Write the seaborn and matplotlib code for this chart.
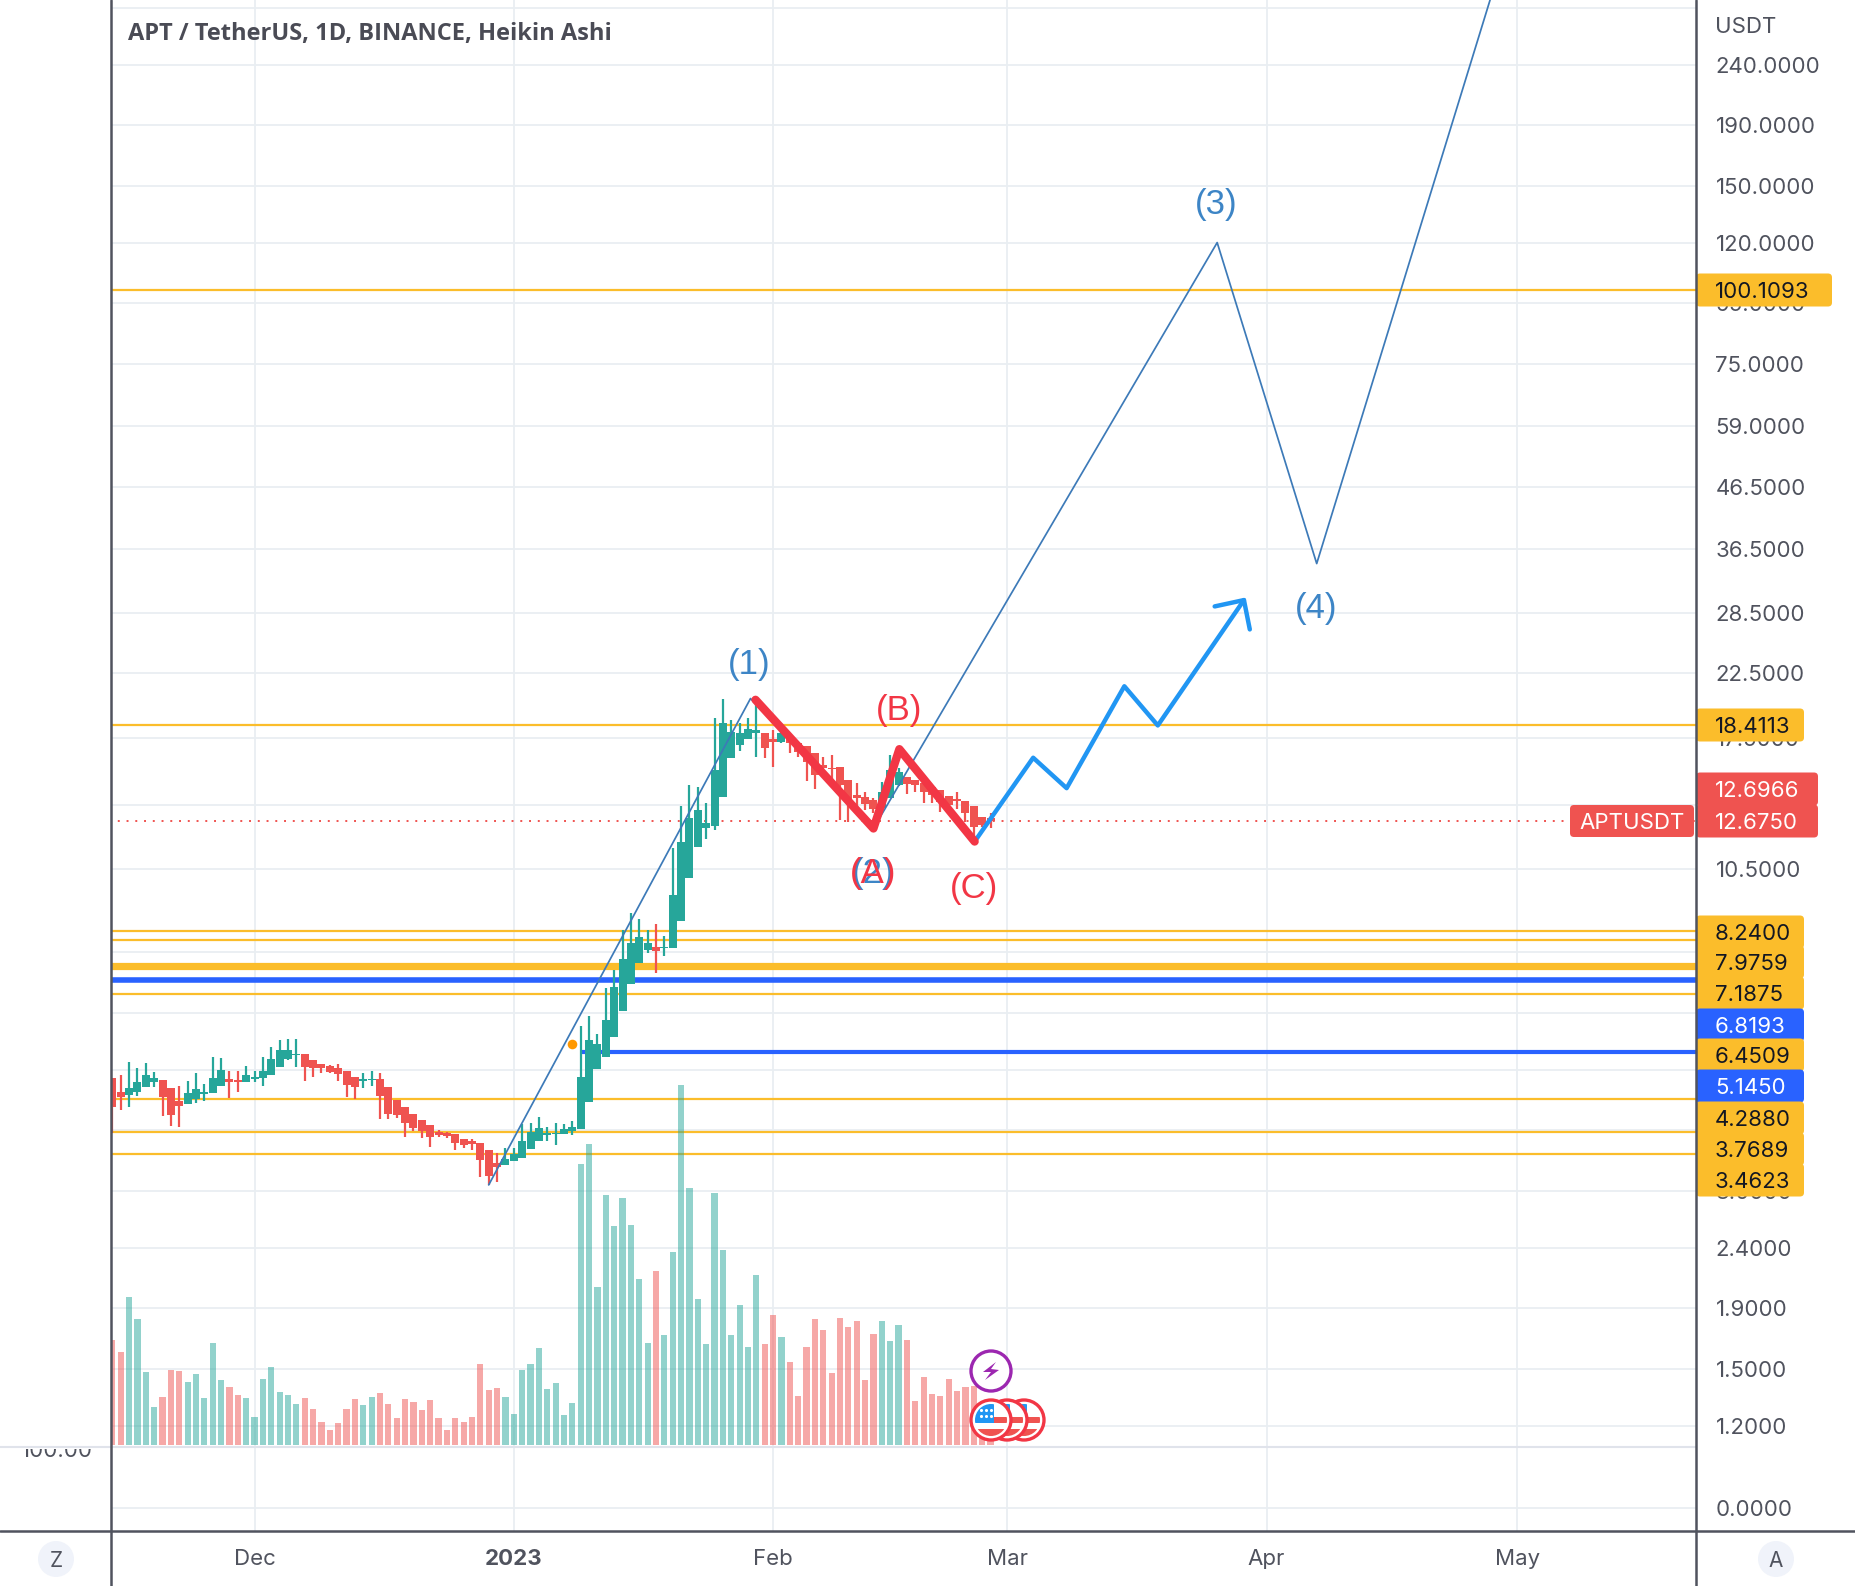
import matplotlib
matplotlib.use("Agg")
import matplotlib.pyplot as plt
from matplotlib.patches import Circle, FancyBboxPatch, Polygon, Rectangle
import numpy as np
import seaborn as sns

first_day = -17  # days from 1 Dec 2022

open_prices = [
    4.651, 4.404, 4.359, 4.416, 4.503, 4.591, 4.621, 4.473, 4.258, 4.209, 4.297, 4.381, 4.387, 4.520, 4.645,
    4.615, 4.579, 4.645, 4.663, 4.718, 4.867, 5.015, 5.100, 5.107, 4.989, 4.918, 4.880, 4.836, 4.786, 4.669,
    4.603, 4.621, 4.633, 4.491, 4.275, 4.154, 4.043, 3.949, 3.873, 3.779, 3.754, 3.740, 3.677, 3.639, 3.620,
    3.519, 3.341, 3.323, 3.371, 3.415, 3.537, 3.649, 3.735, 3.740, 3.745, 3.794, 3.823, 4.247, 4.817, 5.060,
    5.456, 6.053, 6.715, 7.297, 7.666, 7.766, 7.715, 7.736, 8.593, 10.13, 11.46, 12.34, 12.42, 13.93, 16.21,
    17.03, 17.43, 17.87, 17.87, 17.41, 17.25, 17.41, 17.18, 16.98, 16.49, 15.75, 15.59, 15.61, 14.86, 14.02,
    13.93, 13.75, 13.31, 13.84, 14.57, 15.01, 14.86, 14.67, 14.44, 14.29, 13.98, 13.78, 13.69, 13.43, 12.88,
    12.80,
]
high_prices = [
    4.651, 4.712, 4.950, 4.836, 4.931, 4.761, 4.621, 4.473, 4.514, 4.603, 4.742, 4.550, 5.047, 5.028, 4.786,
    4.786, 4.880, 4.786, 5.047, 5.248, 5.400, 5.414, 5.414, 5.107, 4.989, 4.918, 4.899, 4.912, 4.786, 4.669,
    4.742, 4.786, 4.742, 4.491, 4.275, 4.154, 4.043, 3.949, 3.873, 3.803, 3.774, 3.740, 3.677, 3.668, 3.620,
    3.519, 3.482, 3.541, 3.541, 3.893, 3.904, 4.006, 3.843, 3.904, 3.888, 3.944, 5.702, 5.929, 5.527, 6.603,
    7.091, 8.286, 8.865, 8.638, 8.286, 8.482, 8.095, 11.39, 13.43, 14.55, 14.44, 13.57, 18.89, 20.34, 18.77,
    18.53, 18.89, 20.03, 17.87, 18.05, 18.53, 17.41, 17.18, 16.98, 16.49, 16.27, 16.38, 15.61, 14.86, 14.67,
    14.16, 13.84, 14.76, 16.38, 15.55, 15.01, 14.86, 14.67, 14.44, 14.29, 13.98, 14.16, 13.69, 13.43, 12.88,
    13.05,
]
low_prices = [
    3.754, 4.112, 4.165, 4.342, 4.491, 4.491, 4.022, 3.863, 3.853, 4.209, 4.231, 4.264, 4.387, 4.520, 4.303,
    4.416, 4.579, 4.591, 4.514, 4.718, 4.867, 4.995, 4.867, 4.603, 4.681, 4.755, 4.755, 4.603, 4.319, 4.286,
    4.485, 4.520, 3.970, 3.965, 3.980, 3.696, 3.794, 3.682, 3.565, 3.696, 3.682, 3.519, 3.551, 3.519, 3.172,
    3.070, 3.110, 3.323, 3.371, 3.415, 3.537, 3.649, 3.649, 3.588, 3.745, 3.735, 3.823, 4.247, 4.817, 5.060,
    5.456, 6.053, 6.715, 7.297, 7.567, 7.018, 7.489, 7.736, 8.593, 10.13, 11.46, 11.79, 12.23, 13.93, 16.21,
    16.66, 17.43, 16.23, 16.17, 15.61, 17.18, 16.53, 16.27, 14.82, 14.33, 15.35, 14.86, 12.72, 12.60, 13.31,
    13.22, 13.05, 13.22, 13.84, 14.52, 14.07, 14.20, 13.60, 13.60, 13.10, 13.43, 13.26, 12.63, 11.92, 12.39,
    12.31,
]
close_prices = [
    4.165, 4.331, 4.473, 4.579, 4.712, 4.651, 4.331, 4.032, 4.176, 4.387, 4.456, 4.404, 4.651, 4.804, 4.579,
    4.579, 4.706, 4.675, 4.779, 5.021, 5.187, 5.187, 5.120, 4.867, 4.836, 4.848, 4.767, 4.724, 4.532, 4.503,
    4.639, 4.645, 4.342, 4.048, 4.032, 3.914, 3.838, 3.794, 3.696, 3.725, 3.716, 3.611, 3.588, 3.602, 3.384,
    3.180, 3.297, 3.402, 3.469, 3.644, 3.779, 3.828, 3.759, 3.759, 3.823, 3.853, 4.669, 5.400, 5.316, 5.837,
    6.646, 7.392, 7.867, 8.053, 7.867, 7.636, 7.766, 9.496, 11.66, 12.80, 13.22, 12.55, 15.45, 18.53, 17.94,
    17.82, 18.10, 18.05, 16.81, 17.23, 17.82, 17.14, 16.59, 15.92, 15.15, 15.55, 15.51, 14.57, 13.75, 13.84,
    13.52, 13.26, 14.20, 15.45, 15.35, 14.63, 14.57, 14.20, 14.02, 13.66, 13.48, 13.67, 13.08, 12.36, 12.46,
    12.68,
]
volumes = [
    3.15, 2.79, 4.44, 3.78, 2.19, 1.14, 1.44, 2.25, 2.22, 1.89, 2.13, 1.41, 3.06, 1.95, 1.74, 1.50, 1.41, 0.84,
    1.98, 2.34, 1.59, 1.50, 1.23, 1.41, 1.08, 0.69, 0.45, 0.65, 1.08, 1.38, 1.20, 1.44, 1.56, 1.23, 0.81, 1.38,
    1.29, 1.05, 1.35, 0.81, 0.45, 0.81, 0.69, 0.84, 2.43, 1.65, 1.71, 1.44, 0.93, 2.25, 2.43, 2.91, 1.68, 1.86,
    0.90, 1.26, 8.43, 9.03, 4.74, 7.50, 6.57, 7.41, 6.60, 4.98, 3.06, 5.22, 3.30, 5.79, 10.80, 7.71, 4.38, 3.03,
    7.56, 5.85, 3.30, 4.20, 2.94, 5.10, 3.03, 3.90, 3.24, 2.49, 1.47, 2.94, 3.78, 3.45, 2.16, 3.81, 3.54, 3.72,
    1.95, 3.33, 3.72, 3.12, 3.60, 3.15, 1.32, 2.04, 1.53, 1.47, 1.98, 1.62, 1.74, 1.77, 0.45, 0.30,
]

tick_prices = [300, 240, 190, 150, 120, 95, 75, 59, 46.5, 36.5, 28.5, 22.5, 17.5, 13.5, 10.5,
               7.6, 6.0, 4.8, 3.8, 3.0, 2.4, 1.9, 1.5, 1.2, 0.873]
tick_labels = ["", "240.0000", "190.0000", "150.0000", "120.0000", "95.0000", "75.0000", "59.0000",
               "46.5000", "36.5000", "28.5000", "22.5000", "17.5000", "13.5000", "10.5000", "7.6000",
               "6.0000", "4.8000", "3.8000", "3.0000", "2.4000", "1.9000", "1.5000", "1.2000", "0.0000"]
month_days = [0, 31, 62, 90, 121, 151]
month_labels = ["Dec", "2023", "Feb", "Mar", "Apr", "May"]

gold_levels = [100.1093, 18.4113, 8.24, 7.9759, 6.4509, 4.288, 3.7689, 3.4623]
gold_thick = 7.1875
blue_thick = 6.8193
blue_short = 5.145
blue_short_start = 38.9
last_price = 12.675

wave_days = [28.0, 59.3, 74.0, 115.1, 127.0, 147.8]
wave_prices = [3.07, 20.4, 12.3, 120.4, 34.5, 312]
abc_days = [59.9, 74.0, 77.1, 86.1]
abc_prices = [20.3, 12.3, 16.75, 11.69]
path_days = [86.1, 93.1, 97.1, 104.0, 108.0, 118.3]
path_prices = [11.69, 16.2, 14.39, 21.4, 18.37, 29.93]
arrow_days = [114.8, 118.3, 119.0]
arrow_prices = [29.2, 29.93, 26.7]

wave_text = [("(1)", 59.1, 23.3), ("(2)", 74.0, 10.33), ("(3)", 115.0, 139.5), ("(4)", 126.9, 29.0)]
abc_text = [("(A)", 74.0, 10.33), ("(B)", 77.1, 19.5), ("(C)", 86.0, 9.75)]

# badges on the price scale: text, centre y, right edge, fill, text colour
badges = [
    ("100.1093", 290, 1832, "#fbbd2b", "#131722"),
    ("18.4113", 725, 1804, "#fbbd2b", "#131722"),
    ("12.6966", 789, 1818, "#ef5350", "white"),
    ("12.6750", 821, 1818, "#ef5350", "white"),
    ("8.2400", 932, 1804, "#fbbd2b", "#131722"),
    ("7.9759", 962, 1804, "#fbbd2b", "#131722"),
    ("7.1875", 993, 1804, "#fbbd2b", "#131722"),
    ("6.8193", 1025, 1804, "#2962ff", "white"),
    ("6.4509", 1055, 1804, "#fbbd2b", "#131722"),
    ("5.1450", 1086, 1804, "#2962ff", "white"),
    ("4.2880", 1118, 1804, "#fbbd2b", "#131722"),
    ("3.7689", 1149, 1804, "#fbbd2b", "#131722"),
    ("3.4623", 1180, 1804, "#fbbd2b", "#131722"),
]

UP = "#26a69a"
DOWN = "#ef5350"
GOLD = "#fbbd2b"
BLUE = "#2962ff"
WAVE = "#3d7ab8"
RED = "#f23645"
SKY = "#2196f3"
INK = "#50535e"
W, H = 1856, 1586
LEFT, RIGHT, BOTTOM = 111, 1696, 1530.5

sns.set_style("white")
plt.rcParams["font.family"] = ["Inter", "DejaVu Sans"]

fig = plt.figure(figsize=(W / 100, H / 100), dpi=100)
ax = fig.add_axes([LEFT / W, 1 - BOTTOM / H, (RIGHT - LEFT) / W, BOTTOM / H])
vol_ax = ax.twinx()

days = np.arange(first_day, first_day + len(open_prices))
opens = np.array(open_prices)
closes = np.array(close_prices)
rising = closes >= opens
colors = np.where(rising, UP, DOWN)

ax.set_yscale("log")
ax.grid(True, color="#e9eef2", linewidth=1.3)
ax.set_axisbelow(True)

# levels
for level in gold_levels:
    ax.axhline(level, color=GOLD, linewidth=1.6, zorder=2)
ax.axhline(gold_thick, color=GOLD, linewidth=5.2, zorder=2)
ax.axhline(blue_thick, color=BLUE, linewidth=4.0, zorder=2.1)
ax.hlines(blue_short, blue_short_start, 172.35, color=BLUE, linewidth=3.0, zorder=2.1)
ax.axhline(last_price, color=DOWN, linewidth=1.4, linestyle=(1, (1, 3.5)), zorder=2)

# candles
ax.vlines(days, low_prices, high_prices, colors=colors, linewidth=1.6, zorder=3)
ax.bar(days, np.abs(closes - opens), bottom=np.minimum(opens, closes), width=0.96, color=colors,
       edgecolor="none", linewidth=0, zorder=3.1)

sns.scatterplot(x=[38], y=[5.32], color="#ff9800", s=48, linewidth=0, ax=ax, zorder=4)

# drawings
sns.lineplot(x=wave_days, y=wave_prices, sort=False, estimator=None, color=WAVE, linewidth=1.25, ax=ax, zorder=5)
sns.lineplot(x=path_days, y=path_prices, sort=False, estimator=None, color=SKY, linewidth=3.2, ax=ax, zorder=5)
sns.lineplot(x=arrow_days, y=arrow_prices, sort=False, estimator=None, color=SKY, linewidth=3.2, ax=ax, zorder=5)
abc_line = sns.lineplot(x=abc_days, y=abc_prices, sort=False, estimator=None, color=RED, linewidth=6, ax=ax,
                        zorder=6)
abc_line.lines[-1].set_solid_capstyle("round")
abc_line.lines[-1].set_solid_joinstyle("round")

for text, day, price in wave_text:
    ax.text(day, price, text, color="#3d85c6", fontsize=25, family="Liberation Sans", ha="center", va="center", zorder=7)
for text, day, price in abc_text:
    ax.text(day, price, text, color=RED, fontsize=25, family="Liberation Sans", ha="center", va="center", zorder=7)

ax.set_xlim(-17.16, 172.35)
ax.set_ylim(0.7995, 309.6)
ax.minorticks_off()
ax.yaxis.tick_right()
ax.set_yticks(tick_prices, tick_labels)
ax.set_xticks(month_days, month_labels)
ax.minorticks_off()
ax.tick_params(axis="y", length=0, pad=14, labelsize=16, labelcolor=INK)
ax.tick_params(axis="x", length=0, pad=13, labelsize=16, labelcolor=INK)
ax.get_xticklabels()[1].set_fontweight("bold")
for label in ax.get_yticklabels():
    label.set_va("center_baseline")
ax.set_xlabel("")
ax.set_ylabel("")
sns.despine(ax=ax, left=True, right=True, top=True, bottom=True)

# volume, same x axis, own y scale
sns.barplot(x=days, y=volumes, hue=colors, palette={UP: UP, DOWN: DOWN}, native_scale=True, dodge=False,
            errorbar=None, width=0.74, saturation=1, alpha=0.5, edgecolor="none", linewidth=0, legend=False, ax=vol_ax)
vol_ax.set_xlim(-17.16, 172.35)
vol_ax.set_ylim(-2.565, 43.35)
vol_ax.set_yticks([])
vol_ax.set_xlabel("")
vol_ax.set_ylabel("")
vol_ax.grid(False)
sns.despine(ax=vol_ax, left=True, right=True, top=True, bottom=True)

# chart frame and labels, laid over in pixel coordinates
ui = fig.add_axes([0, 0, 1, 1], zorder=10)
ui.set_xlim(0, W)
ui.set_ylim(H, 0)
ui.axis("off")
ui.patch.set_visible(False)

ui.plot([0, RIGHT], [1447, 1447], color="#e0e3eb", linewidth=1.5)
left_label = ui.text(93, 1457, "100.00", color=INK, fontsize=16, ha="right", va="baseline", clip_on=True)
left_label.set_clip_path(Rectangle((0, 1449), 100, 30, transform=ui.transData))
ui.plot([LEFT, LEFT], [0, H], color=INK, linewidth=1.8)
ui.plot([RIGHT, RIGHT], [0, H], color=INK, linewidth=1.8)
ui.plot([0, W], [BOTTOM, BOTTOM], color=INK, linewidth=1.8)

ui.text(128, 34, "APT / TetherUS, 1D, BINANCE, Heikin Ashi", family="Open Sans", fontweight="bold",
        fontsize=17, color="#4a4b55", va="center")
ui.text(1715, 27, "USDT", color=INK, fontsize=16, va="center")

for text, y, right, fill, ink in badges:
    ui.add_patch(FancyBboxPatch((RIGHT, y - 16.5), right - RIGHT, 33, boxstyle="round,pad=0,rounding_size=4",
                                facecolor=fill, edgecolor="none"))
    ui.text(1715, y, text, color=ink, fontsize=16, va="center_baseline")
ui.add_patch(FancyBboxPatch((1570, 805), 124, 32, boxstyle="round,pad=0,rounding_size=4", facecolor=DOWN,
                            edgecolor="none"))
ui.text(1632, 821, "APTUSDT", color="white", fontsize=16, ha="center", va="center_baseline")

for cx, mark in [(56, "Z"), (1776, "A")]:
    ui.add_patch(Circle((cx, 1559), 18, facecolor="#f0f3fa", edgecolor="none"))
    ui.text(cx, 1559, mark, color=INK, fontsize=15, ha="center", va="center_baseline")

# event markers
for cx in [1024, 1007, 991]:
    ui.add_patch(Circle((cx, 1420), 20, facecolor="white", edgecolor=RED, linewidth=2.4, zorder=3))
    inner = Circle((cx, 1420), 16, transform=ui.transData)
    for x, y, w, h, fill in [(-16, 9, 32, 8, DOWN), (3, -3, 13, 6, DOWN), (-16, -16, 19, 19, SKY)]:
        stripe = Rectangle((cx + x, 1420 + y), w, h, facecolor=fill, edgecolor="none", zorder=3)
        ui.add_patch(stripe)
        stripe.set_clip_path(inner)
ui.scatter([981, 986, 991, 981, 986, 991], [1410, 1410, 1410, 1416, 1416, 1416], s=5, color="white", linewidth=0, zorder=4)
ui.add_patch(Circle((991, 1371), 20, facecolor="white", edgecolor="#9c27b0", linewidth=2.4, zorder=3))
ui.add_patch(Polygon([(996, 1362), (983, 1372), (991, 1372), (985, 1380), (999, 1370), (991, 1369)],
                     closed=True, facecolor="#9c27b0", edgecolor="none", zorder=3))

fig.savefig("out.png", dpi=100)
